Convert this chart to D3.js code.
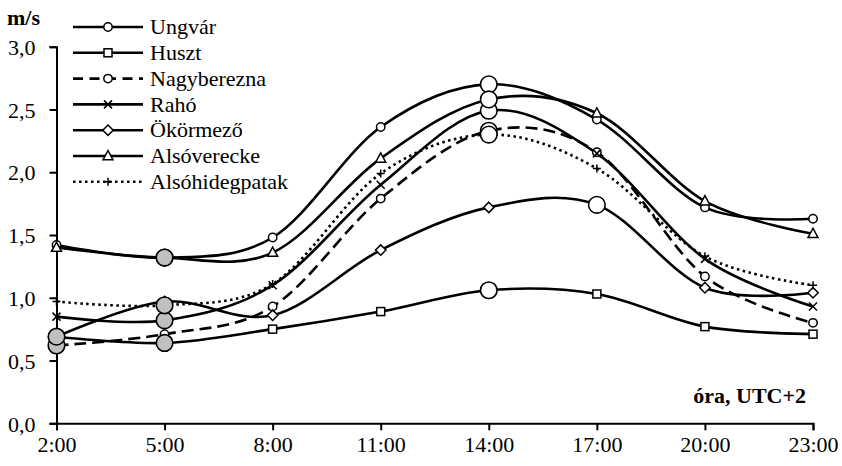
<!DOCTYPE html>
<html><head><meta charset="utf-8">
<script src="https://cdn.jsdelivr.net/npm/d3@7"></script>
<style>
html,body{margin:0;padding:0;background:#fff;}
svg text{font-family:"Liberation Serif","Times New Roman",serif;fill:#000;}
</style></head>
<body>
<svg id="chart" width="842" height="466"></svg>
<script>
const hours = ["2:00","5:00","8:00","11:00","14:00","17:00","20:00","23:00"];
const yTicks = [0, 0.5, 1.0, 1.5, 2.0, 2.5, 3.0];
const seriesNames = ["Ungvár","Huszt","Nagyberezna","Rahó","Ökörmező","Alsóverecke","Alsóhidegpatak"];
const ungvar      = [1.42,1.32,1.48,2.36,2.70,2.42,1.72,1.63];
const huszt       = [0.69,0.64,0.75,0.89,1.06,1.03,0.77,0.71];
const nagyberezna = [0.62,0.71,0.93,1.79,2.33,2.16,1.17,0.80];
const raho        = [0.85,0.82,1.10,1.90,2.49,2.15,1.31,0.93];
const okormezo    = [0.69,0.97,0.86,1.38,1.72,1.74,1.08,1.04];
const alsoverecke = [1.40,1.32,1.36,2.11,2.58,2.47,1.77,1.51];
const alsohideg   = [0.97,0.94,1.11,1.99,2.30,2.03,1.33,1.10];
const seriesValues = [ungvar,huszt,nagyberezna,raho,okormezo,alsoverecke,alsohideg];
const markerTypes = ["circle","square","circle","x","diamond","triangle","plus"];
const dashTypes = ["solid","solid","dashed","solid","solid","solid","dotted"];

const svg = d3.select("#chart");
const x = d3.scalePoint().domain(hours).range([56.5, 813]);
const y = d3.scaleLinear().domain([0,3]).range([423.3, 46.7]);

// axes
const xAxis = svg.append("g").attr("transform","translate(0,"+y(0)+")")
  .call(d3.axisBottom(x).tickSize(7).tickPadding(6));
const yAxis = svg.append("g").attr("transform","translate("+x(hours[0])+",0)")
  .call(d3.axisLeft(y).tickValues(yTicks).tickSize(7).tickPadding(14)
    .tickFormat(d=>d3.format(".1f")(d).replace(".",",")));
[xAxis,yAxis].forEach(g=>{
  g.attr("font-family",null);
  g.select(".domain").attr("stroke","#000").attr("stroke-width",2);
  g.selectAll(".tick line").attr("stroke","#000").attr("stroke-width",2);
  g.selectAll(".tick text").style("font-family","'Liberation Serif','Times New Roman',serif")
    .style("font-size","22px").attr("fill","#000");
});
yAxis.selectAll(".tick text").attr("dy","0.35em");
xAxis.selectAll(".tick text").attr("dy","0.71em");

const dashArr = {solid:null, dashed:"12,6", dotted:"2.5,3.5"};
const line = d3.line().x((d,i)=>x(hours[i])).y(d=>y(d)).curve(d3.curveCardinal.tension(0));

function drawMarker(g, type, cx, cy){
  const s = "#000", sw = 1.5;
  if(type==="circle") g.append("circle").attr("cx",cx).attr("cy",cy).attr("r",4.2).attr("fill","#fff").attr("stroke",s).attr("stroke-width",sw);
  else if(type==="square") g.append("rect").attr("x",cx-4).attr("y",cy-4).attr("width",8).attr("height",8).attr("fill","#fff").attr("stroke",s).attr("stroke-width",sw);
  else if(type==="diamond") g.append("path").attr("d",`M${cx},${cy-5.2}L${cx+5.2},${cy}L${cx},${cy+5.2}L${cx-5.2},${cy}Z`).attr("fill","#fff").attr("stroke",s).attr("stroke-width",sw);
  else if(type==="triangle") g.append("path").attr("d",`M${cx},${cy-5.5}L${cx+5},${cy+3.8}L${cx-5},${cy+3.8}Z`).attr("fill","#fff").attr("stroke",s).attr("stroke-width",sw);
  else if(type==="x") g.append("path").attr("d",`M${cx-4},${cy-4}L${cx+4},${cy+4}M${cx-4},${cy+4}L${cx+4},${cy-4}`).attr("stroke",s).attr("stroke-width",sw).attr("fill","none");
  else if(type==="plus") g.append("path").attr("d",`M${cx-4},${cy}L${cx+4},${cy}M${cx},${cy-4}L${cx},${cy+4}`).attr("stroke",s).attr("stroke-width",sw).attr("fill","none");
}

const plot = svg.append("g");
seriesValues.forEach((vals,si)=>{
  plot.append("path").datum(vals).attr("d",line).attr("fill","none")
    .attr("stroke","#000").attr("stroke-width",2.6)
    .attr("stroke-dasharray",dashArr[dashTypes[si]]);
});
seriesValues.forEach((vals,si)=>{
  const g = plot.append("g");
  vals.forEach((v,i)=>drawMarker(g, markerTypes[si], x(hours[i]), y(v)));
});
// highlight min (grey) and max (white) of each series
const hl = svg.append("g");
seriesValues.forEach(vals=>{
  const iMin = d3.minIndex(vals), iMax = d3.maxIndex(vals);
  hl.append("circle").attr("cx",x(hours[iMin])).attr("cy",y(vals[iMin])).attr("r",8.3)
    .attr("fill","#c0c0c0").attr("stroke","#000").attr("stroke-width",1.6);
  hl.append("circle").attr("cx",x(hours[iMax])).attr("cy",y(vals[iMax])).attr("r",8.3)
    .attr("fill","#fff").attr("stroke","#000").attr("stroke-width",1.6);
});

// legend
const leg = svg.append("g");
seriesNames.forEach((name,si)=>{
  const ly = 27 + si*25.8;
  const dt = dashTypes[si];
  leg.append("line").attr("x1",73).attr("x2",143).attr("y1",ly).attr("y2",ly)
    .attr("stroke","#000").attr("stroke-width",2.6)
    .attr("stroke-dasharray", dt==="dashed" ? "10,6.5" : dashArr[dt]);
  drawMarker(leg, markerTypes[si], 108, ly);
  leg.append("text").attr("x",150).attr("y",ly).attr("dy","0.33em")
    .style("font-size","22px").text(name);
});

svg.append("text").attr("x",7).attr("y",25).style("font-size","22px").style("font-weight","bold").text("m/s");
svg.append("text").attr("x",806).attr("y",403).attr("text-anchor","end")
  .style("font-size","22px").style("font-weight","bold").text("óra, UTC+2");
</script>
</body></html>
